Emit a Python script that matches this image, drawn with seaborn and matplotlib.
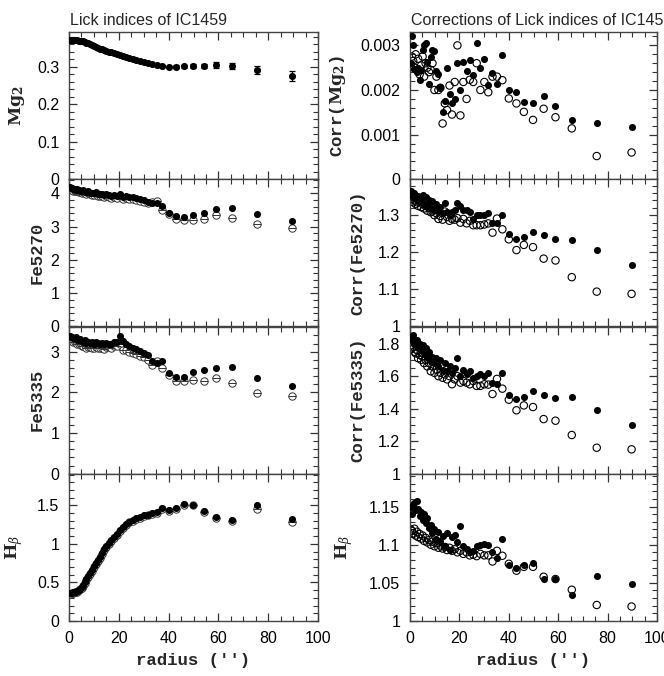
import matplotlib
matplotlib.use("Agg")
import matplotlib.pyplot as plt
import numpy as np
import seaborn as sns
from matplotlib.ticker import MultipleLocator, FuncFormatter

# radius of every aperture (arcsec)
radius = [0.3, 0.8, 1.3, 1.8, 2.3, 2.8, 3.3, 3.9, 4.5, 5.1, 5.7, 6.3, 7.0, 7.7, 8.4, 9.1,
          9.9, 10.7, 11.5, 12.3, 13.2, 14.1, 15.0, 16.0, 17.0, 18.1, 19.2, 20.4, 21.6, 22.9,
          24.2, 25.6, 27.0, 28.5, 30.1, 31.7, 33.4, 35.2,
          37.4, 40.0, 43.1, 46.1, 49.8, 54.1, 58.9, 65.5, 75.6, 89.7]

# Lick indices (left column)
mg2 = [0.372, 0.372, 0.371, 0.371, 0.371, 0.370, 0.370, 0.369, 0.369, 0.368, 0.367, 0.366,
       0.364, 0.362, 0.360, 0.357, 0.355, 0.353, 0.350, 0.348, 0.346, 0.344, 0.342, 0.340,
       0.338, 0.335, 0.333, 0.330, 0.328, 0.326, 0.323, 0.320, 0.318, 0.315, 0.312, 0.309,
       0.306, 0.304,
       0.302, 0.2995, 0.2995, 0.301, 0.301, 0.3015, 0.304, 0.302, 0.2915, 0.274]
mg2_err = [0.0015] * 38 + [0.003, 0.003, 0.004, 0.004, 0.005, 0.006, 0.007, 0.008, 0.010, 0.013]

fe5270 = [4.18, 4.17, 4.15, 4.14, 4.12, 4.10, 4.13, 4.11, 4.08, 4.07, 4.09, 4.05, 4.04, 4.06,
          4.02, 4.01, 4.00, 4.03, 3.98, 3.97, 3.99, 3.95, 3.97, 3.94, 3.93, 3.96, 3.92, 3.99,
          3.90, 3.92, 3.88, 3.89, 3.86, 3.84, 3.81, 3.75, 3.71, 3.72,
          3.63, 3.41, 3.31, 3.28, 3.34, 3.40, 3.53, 3.55, 3.39, 3.16]
fe5270_open = [4.14, 4.12, 4.11, 4.08, 4.07, 4.06, 4.07, 4.05, 4.03, 4.02, 4.03, 4.00, 3.99,
               4.00, 3.97, 3.95, 3.95, 3.97, 3.93, 3.91, 3.93, 3.89, 3.91, 3.88, 3.87, 3.89,
               3.86, 3.92, 3.84, 3.86, 3.82, 3.83, 3.80, 3.78, 3.75, 3.72, 3.75, 3.78,
               3.51, 3.38, 3.23, 3.21, 3.21, 3.23, 3.35, 3.26, 3.08, 2.95]

fe5335 = [3.38, 3.37, 3.36, 3.34, 3.33, 3.35, 3.30, 3.29, 3.32, 3.27, 3.25, 3.28, 3.22, 3.24,
          3.21, 3.23, 3.20, 3.25, 3.22, 3.19, 3.21, 3.18, 3.22, 3.20, 3.19, 3.23, 3.24, 3.38,
          3.26, 3.20, 3.14, 3.10, 3.06, 3.01, 2.96, 2.92, 2.78, 2.73,
          2.76, 2.48, 2.38, 2.38, 2.50, 2.54, 2.59, 2.63, 2.36, 2.15]
fe5335_open = [3.32, 3.30, 3.28, 3.25, 3.24, 3.26, 3.20, 3.18, 3.22, 3.15, 3.14, 3.17, 3.10,
               3.12, 3.11, 3.10, 3.08, 3.12, 3.10, 3.08, 3.10, 3.07, 3.11, 3.12, 3.10, 3.13,
               3.14, 3.20, 3.05, 3.03, 3.00, 2.97, 2.94, 2.90, 2.86, 2.80, 2.67, 2.78,
               2.59, 2.43, 2.27, 2.27, 2.31, 2.29, 2.36, 2.22, 1.98, 1.91]

hbeta = [0.36, 0.36, 0.36, 0.37, 0.37, 0.38, 0.39, 0.40, 0.42, 0.44, 0.47, 0.50, 0.54, 0.58,
         0.62, 0.66, 0.71, 0.75, 0.79, 0.83, 0.88, 0.93, 0.97, 1.01, 1.05, 1.09, 1.13, 1.18,
         1.22, 1.26, 1.29, 1.31, 1.33, 1.35, 1.37, 1.38, 1.40, 1.41,
         1.46, 1.44, 1.46, 1.52, 1.51, 1.43, 1.35, 1.31, 1.51, 1.32]
hbeta_open = [0.35, 0.35, 0.36, 0.36, 0.37, 0.37, 0.38, 0.40, 0.41, 0.43, 0.46, 0.49, 0.53,
              0.57, 0.61, 0.65, 0.70, 0.74, 0.78, 0.82, 0.87, 0.92, 0.96, 1.00, 1.04, 1.08,
              1.12, 1.17, 1.21, 1.25, 1.28, 1.30, 1.32, 1.34, 1.36, 1.37, 1.39, 1.40,
              1.45, 1.43, 1.45, 1.51, 1.50, 1.42, 1.34, 1.30, 1.45, 1.28]

# corrections (right column)
corr_mg2 = [0.00260, 0.00320, 0.00300, 0.00248, 0.00245, 0.00240, 0.00250, 0.00222, 0.00245,
            0.00290, 0.00300, 0.00305, 0.00262, 0.00214, 0.00275, 0.00290, 0.00288, 0.00242,
            0.00235, 0.00207, 0.00150, 0.00175, 0.00250, 0.00190, 0.00172, 0.00180, 0.00260,
            0.00200, 0.00262, 0.00242, 0.00268, 0.00233, 0.00305, 0.00250, 0.00270, 0.00212,
            0.00238, 0.00213,
            0.00279, 0.00199, 0.00195, 0.00173, 0.00171, 0.00186, 0.00164, 0.00132, 0.00125,
            0.00118]
corr_mg2_open = [0.00255, 0.00275, 0.00265, 0.00250, 0.00280, 0.00245, 0.00270, 0.00235,
                 0.00255, 0.00275, 0.00230, 0.00260, 0.00250, 0.00240, 0.00245, 0.00260,
                 0.00200, 0.00230, 0.00200, 0.00205, 0.00125, 0.00170, 0.00155, 0.00210,
                 0.00145, 0.00218, 0.00300, 0.00143, 0.00218, 0.00180, 0.00223, 0.00218,
                 0.00260, 0.00200, 0.00218, 0.00195, 0.00230, 0.00230,
                 0.00222, 0.00181, 0.00170, 0.00151, 0.00133, 0.00158, 0.00139, 0.00114,
                 0.00052, 0.00060]

corr_fe5270 = [1.365, 1.358, 1.350, 1.360, 1.345, 1.340, 1.352, 1.335, 1.345, 1.355, 1.330,
               1.348, 1.325, 1.342, 1.320, 1.338, 1.315, 1.330, 1.312, 1.322, 1.305, 1.334,
               1.310, 1.300, 1.308, 1.315, 1.332, 1.325, 1.315, 1.315, 1.310, 1.290, 1.300,
               1.300, 1.300, 1.307, 1.280, 1.278,
               1.300, 1.249, 1.237, 1.241, 1.256, 1.246, 1.235, 1.232, 1.206, 1.165]
corr_fe5270_open = [1.350, 1.345, 1.335, 1.340, 1.330, 1.335, 1.325, 1.338, 1.322, 1.330,
                    1.318, 1.325, 1.312, 1.320, 1.308, 1.310, 1.300, 1.305, 1.290, 1.298,
                    1.288, 1.310, 1.295, 1.285, 1.290, 1.288, 1.292, 1.280, 1.290, 1.278,
                    1.285, 1.273, 1.273, 1.273, 1.275, 1.278, 1.253, 1.291,
                    1.262, 1.235, 1.206, 1.220, 1.214, 1.183, 1.178, 1.133, 1.094, 1.088]

corr_fe5335 = [1.84, 1.82, 1.85, 1.80, 1.79, 1.82, 1.77, 1.80, 1.76, 1.79, 1.74, 1.77, 1.72,
               1.75, 1.70, 1.72, 1.68, 1.71, 1.66, 1.70, 1.64, 1.68, 1.63, 1.66, 1.62, 1.65,
               1.71, 1.60, 1.64, 1.61, 1.63, 1.59, 1.60, 1.61, 1.60, 1.62, 1.56, 1.55,
               1.62, 1.486, 1.46, 1.47, 1.51, 1.486, 1.466, 1.472, 1.39, 1.30]
corr_fe5335_open = [1.79, 1.77, 1.78, 1.75, 1.74, 1.76, 1.71, 1.73, 1.70, 1.72, 1.68, 1.70,
                    1.66, 1.68, 1.63, 1.66, 1.62, 1.64, 1.60, 1.62, 1.59, 1.61, 1.58, 1.60,
                    1.55, 1.58, 1.60, 1.56, 1.57, 1.56, 1.55, 1.57, 1.54, 1.54, 1.55, 1.548,
                    1.49, 1.583,
                    1.523, 1.455, 1.39, 1.42, 1.41, 1.336, 1.326, 1.238, 1.16, 1.15]

corr_hbeta = [1.150, 1.140, 1.152, 1.155, 1.145, 1.157, 1.147, 1.138, 1.143, 1.132, 1.140,
              1.128, 1.135, 1.122, 1.126, 1.115, 1.120, 1.108, 1.117, 1.105, 1.112, 1.098,
              1.115, 1.093, 1.110, 1.113, 1.103, 1.124, 1.098, 1.094, 1.090, 1.092, 1.098,
              1.099, 1.101, 1.100, 1.090, 1.083,
              1.1075, 1.0737, 1.070, 1.073, 1.076, 1.055, 1.055, 1.034, 1.059, 1.048]
corr_hbeta_open = [1.120, 1.118, 1.115, 1.121, 1.112, 1.117, 1.110, 1.114, 1.108, 1.112,
                   1.105, 1.109, 1.103, 1.106, 1.100, 1.104, 1.098, 1.102, 1.096, 1.099,
                   1.095, 1.097, 1.093, 1.096, 1.092, 1.094, 1.090, 1.092, 1.088, 1.090,
                   1.086, 1.087, 1.085, 1.088, 1.086, 1.086, 1.078, 1.092,
                   1.0855, 1.075, 1.066, 1.071, 1.071, 1.058, 1.055, 1.041, 1.021, 1.019]

sns.set_theme(style="ticks")
plt.rcParams["font.family"] = ["Liberation Sans", "DejaVu Sans"]
plt.rcParams["mathtext.fontset"] = "dejavuserif"

label_font = dict(family=["Liberation Mono", "DejaVu Sans Mono"], weight="bold", size=12.5)

fig = plt.figure(figsize=(6.64, 6.76), dpi=100)

W, H = 664, 676
row_h = 147.25
top_px = 32
fmt = FuncFormatter(lambda v, pos: f"{v:g}")


def make_ax(left_px, width_px, row):
    y0 = top_px + row * row_h
    return fig.add_axes([left_px / W, 1 - (y0 + row_h) / H, width_px / W, row_h / H])


def style(ax, ylim, major, minor, ylabel, bottom, lab_x):
    ax.set_xlim(0, 100)
    ax.set_ylim(*ylim)
    ax.xaxis.set_major_locator(MultipleLocator(20))
    ax.xaxis.set_minor_locator(MultipleLocator(5))
    ax.yaxis.set_major_locator(MultipleLocator(major))
    ax.yaxis.set_minor_locator(MultipleLocator(minor))
    ax.xaxis.set_major_formatter(fmt)
    ax.yaxis.set_major_formatter(fmt)
    ax.tick_params(which="both", direction="in", top=True, right=True,
                   colors="#333333", labelcolor="black", labelsize=11.5)
    ax.tick_params(which="major", length=6, width=0.9)
    ax.tick_params(which="minor", length=3.5, width=0.8)
    ax.tick_params(axis="y", pad=7)
    ax.tick_params(axis="x", pad=7)
    for s in ax.spines.values():
        s.set_color("#444444")
        s.set_linewidth(1.0)
    ax.set_ylabel(ylabel, fontdict=label_font)
    ax.yaxis.set_label_coords(lab_x, 0.5)
    if bottom:
        ax.set_xlabel("radius ('')", fontdict=label_font)
        ax.xaxis.set_label_coords(0.5, -0.22)
    else:
        ax.tick_params(labelbottom=False)
        ax.set_xlabel("")


def filled(ax, y):
    sns.scatterplot(x=radius, y=y, ax=ax, color="black", s=26, linewidth=0, zorder=3)


def hollow(ax, y):
    sns.scatterplot(x=radius, y=y, ax=ax, marker="o", facecolor="none", edgecolor="black",
                    s=28, linewidth=0.8, zorder=2)


mg_lab = r"$\mathbf{Mg_2}$"
hb_lab = r"$\mathbf{H}_\beta$"

# ---- left column: Lick indices
left_specs = [
    (mg2, None, (0, 0.392), 0.1, 0.02, mg_lab, -0.169),
    (fe5270, fe5270_open, (0, 4.42), 1, 0.2, "Fe5270", -0.096),
    (fe5335, fe5335_open, (0, 3.62), 1, 0.2, "Fe5335", -0.096),
    (hbeta, hbeta_open, (0, 1.91), 0.5, 0.1, hb_lab, -0.177),
]
for i, (yf, yo, ylim, major, minor, lab, lx) in enumerate(left_specs):
    ax = make_ax(69, 249, i)
    if yo is None:
        ax.errorbar(radius, yf, yerr=mg2_err, fmt="none", ecolor="black", elinewidth=0.9,
                    capsize=2.5, capthick=0.9, zorder=2)
    else:
        ax.errorbar(radius, yo, yerr=0.015 * ylim[1], fmt="none", ecolor="#444444",
                    elinewidth=0.6, capsize=0, zorder=1)
        ax.plot(radius, yo, "o", mfc="white", mec="#333333", ms=5.3, mew=0.7, zorder=2)
        ax.plot(radius, yo, "_", color="#333333", ms=5.3, mew=0.7, zorder=2)
    filled(ax, yf)
    style(ax, ylim, major, minor, lab, i == 3, lx)
    if i == 0:
        ax.set_title("Lick indices of IC1459", loc="left", fontsize=11.5, pad=5, x=0.005)

# ---- right column: corrections
right_specs = [
    (corr_mg2, corr_mg2_open, (0, 0.0033), 0.001, 0.0002, "Corr(" + mg_lab + ")", -0.251),
    (corr_fe5270, corr_fe5270_open, (1, 1.397), 0.1, 0.02, "Corr(Fe5270)", -0.182),
    (corr_fe5335, corr_fe5335_open, (1, 1.905), 0.2, 0.05, "Corr(Fe5335)", -0.182),
    (corr_hbeta, corr_hbeta_open, (1, 1.193), 0.05, 0.01, hb_lab, -0.223),
]
for i, (yf, yo, ylim, major, minor, lab, lx) in enumerate(right_specs):
    ax = make_ax(410, 247, i)
    hollow(ax, yo)
    filled(ax, yf)
    style(ax, ylim, major, minor, lab, i == 3, lx)
    if i == 0:
        ax.set_title("Corrections of Lick indices of IC1459", loc="left", fontsize=11.5,
                     pad=5, x=0.005)

fig.savefig("out.png", dpi=100)
